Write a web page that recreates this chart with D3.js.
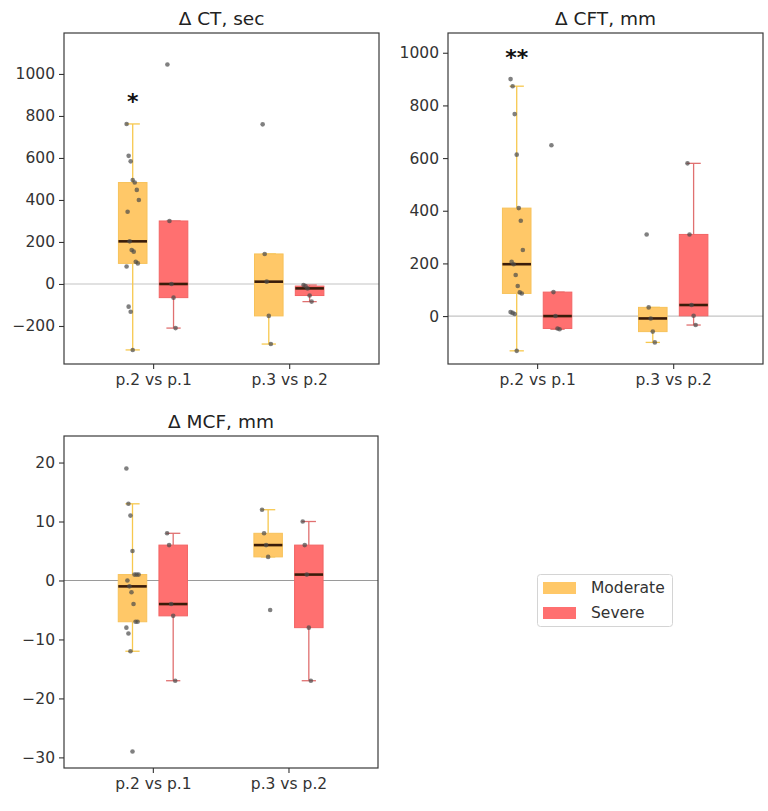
<!DOCTYPE html>
<html>
<head>
<meta charset="utf-8">
<script src="https://cdn.jsdelivr.net/npm/d3@7/dist/d3.min.js"></script>
<style>
  html, body { margin: 0; padding: 0; background: #fff; }
  svg { display: block; font-family: "DejaVu Sans", sans-serif; }
</style>
</head>
<body>
<svg id="chart" width="768" height="811"></svg>
<script>
// ---------------- data ----------------
const categories = ["p.2 vs p.1", "p.3 vs p.2"];
const groups = ["Moderate", "Severe"];
const panelTitles = ["Δ CT, sec", "Δ CFT, mm", "Δ MCF, mm"];

// values per category: [p.2 vs p.1, p.3 vs p.2]
const ctModerate = [
  [762, 610, 584, 495, 483, 448, 400, 344, 203, 162, 154, 106, 98, 83, -108, -132, -314],
  [760, 143, 11, -152, -286]
];
const ctSevere = [
  [1045, 300, 0, -65, -210],
  [-5, -10, -21, -55, -84]
];
const cftModerate = [
  [900, 873, 767, 613, 410, 362, 251, 206, 197, 156, 114, 90, 86, 15, 12, 8, -132],
  [310, 33, -9, -59, -100]
];
const cftSevere = [
  [649, 91, 0, -47, -50],
  [580, 310, 42, 1, -34]
];
const mcfModerate = [
  [19, 13, 11, 5, 1, 1, 1, 0, -1, -2, -4, -7, -7, -8, -9, -12, -29],
  [12, 8, 6, 4, -5]
];
const mcfSevere = [
  [8, 6, -4, -6, -17],
  [10, 6, 1, -8, -17]
];

const ctTicks = [-200, 0, 200, 400, 600, 800, 1000];
const cftTicks = [0, 200, 400, 600, 800, 1000];
const mcfTicks = [-30, -20, -10, 0, 10, 20];

const ctDomain = [-381, 1195];
const cftDomain = [-182, 1075];
const mcfDomain = [-31.8, 24.5];

// significance marks
const sigPanel = [0, 1];
const sigText = ["*", "**"];
const sigValue = [892, 1000];

// ---------------- styles ----------------
const fillColors = ["#ffc868", "#ff7070"];
const edgeColors = ["#f7c25a", "#f26464"];
const whiskerColors = ["#f7c84e", "#e07070"];
const zeroLineColors = ["#c4c4c4", "#c4c4c4", "#9a9a9a"];

const panels = [
  { title: panelTitles[0], series: [ctModerate, ctSevere], ticks: ctTicks, domain: ctDomain, frame: { x: 64, y: 33, w: 315, h: 331 } },
  { title: panelTitles[1], series: [cftModerate, cftSevere], ticks: cftTicks, domain: cftDomain, frame: { x: 448, y: 33, w: 315, h: 331 } },
  { title: panelTitles[2], series: [mcfModerate, mcfSevere], ticks: mcfTicks, domain: mcfDomain, frame: { x: 64, y: 436, w: 314, h: 332 } }
];

const svg = d3.select("#chart");
const fmt = d3.format("d");

function boxStats(values) {
  const s = values.slice().sort(d3.ascending);
  const q1 = d3.quantile(s, 0.25), med = d3.quantile(s, 0.5), q3 = d3.quantile(s, 0.75);
  const iqr = q3 - q1;
  const lo = d3.min(s.filter(v => v >= q1 - 1.5 * iqr));
  const hi = d3.max(s.filter(v => v <= q3 + 1.5 * iqr));
  return { q1, med, q3, lo, hi };
}

function jitter(i) {
  return ((((i * 7919) % 13) / 12) - 0.5) * 0.09;
}

const groupOffset = [-0.15, 0.15];
const boxWidth = 0.21;

panels.forEach((p, pi) => {
  const f = p.frame;
  const g = svg.append("g");
  const x = d3.scaleLinear().domain([-0.655, 1.66]).range([f.x, f.x + f.w]);
  const y = d3.scaleLinear().domain(p.domain).range([f.y + f.h, f.y]);

  // zero line
  g.append("line")
    .attr("x1", f.x).attr("x2", f.x + f.w)
    .attr("y1", y(0)).attr("y2", y(0))
    .attr("stroke", zeroLineColors[pi]).attr("stroke-width", 1.2);

  const unit = x(1) - x(0);

  p.series.forEach((series, gi) => {
    series.forEach((vals, ci) => {
      const st = boxStats(vals);
      const cx = x(ci + groupOffset[gi]);
      const bw = boxWidth * unit;
      const cg = g.append("g");
      // whiskers
      cg.append("line")
        .attr("x1", cx).attr("x2", cx)
        .attr("y1", y(st.hi)).attr("y2", y(st.q3))
        .attr("stroke", whiskerColors[gi]).attr("stroke-width", 1.3);
      cg.append("line")
        .attr("x1", cx).attr("x2", cx)
        .attr("y1", y(st.q1)).attr("y2", y(st.lo))
        .attr("stroke", whiskerColors[gi]).attr("stroke-width", 1.3);
      // caps
      [st.hi, st.lo].forEach(v => {
        cg.append("line")
          .attr("x1", cx - bw / 4).attr("x2", cx + bw / 4)
          .attr("y1", y(v)).attr("y2", y(v))
          .attr("stroke", whiskerColors[gi]).attr("stroke-width", 1.3);
      });
      // box
      cg.append("rect")
        .attr("x", cx - bw / 2).attr("width", bw)
        .attr("y", y(st.q3)).attr("height", Math.max(1, y(st.q1) - y(st.q3)))
        .attr("fill", fillColors[gi])
        .attr("stroke", edgeColors[gi]).attr("stroke-width", 1);
      // median
      cg.append("line")
        .attr("x1", cx - bw / 2).attr("x2", cx + bw / 2)
        .attr("y1", y(st.med)).attr("y2", y(st.med))
        .attr("stroke", "#3a1c0a").attr("stroke-width", 2.6);
      // points
      cg.selectAll("circle").data(vals).join("circle")
        .attr("cx", (d, i) => x(ci + groupOffset[gi] + jitter(i)))
        .attr("cy", d => y(d))
        .attr("r", 2.3)
        .attr("fill", "#4a4a4a")
        .attr("fill-opacity", 0.7);
    });
  });

  // frame
  g.append("rect")
    .attr("x", f.x).attr("y", f.y).attr("width", f.w).attr("height", f.h)
    .attr("fill", "none").attr("stroke", "#3a3a3a").attr("stroke-width", 1.2);

  // y axis
  const ya = g.append("g").attr("transform", `translate(${f.x},0)`)
    .call(d3.axisLeft(y).tickValues(p.ticks).tickFormat(fmt).tickSize(5).tickPadding(4));
  ya.select(".domain").remove();
  ya.selectAll("line").attr("stroke", "#333").attr("stroke-width", 1.1);
  ya.selectAll("text").attr("font-size", "15.5px").attr("fill", "#333")
    .attr("font-family", "DejaVu Sans, sans-serif");

  // x axis
  const xa = g.append("g").attr("transform", `translate(0,${f.y + f.h})`)
    .call(d3.axisBottom(x).tickValues([0, 1]).tickFormat(i => categories[i]).tickSize(5).tickPadding(5));
  xa.select(".domain").remove();
  xa.selectAll("line").attr("stroke", "#333").attr("stroke-width", 1.1);
  xa.selectAll("text").attr("font-size", "15.5px").attr("fill", "#333")
    .attr("font-family", "DejaVu Sans, sans-serif");

  // title
  g.append("text")
    .attr("x", f.x + f.w / 2).attr("y", f.y - 8)
    .attr("text-anchor", "middle")
    .attr("font-size", "18.5px").attr("fill", "#222")
    .text(p.title);

  // significance
  sigPanel.forEach((sp, si) => {
    if (sp !== pi) return;
    g.append("text")
      .attr("x", x(0 + groupOffset[0]))
      .attr("y", y(sigValue[si]) + 12)
      .attr("text-anchor", "middle")
      .attr("font-size", "22px").attr("font-weight", "bold").attr("fill", "#111")
      .text(sigText[si]);
  });
});

// legend
const lg = svg.append("g");
lg.append("rect")
  .attr("x", 537.5).attr("y", 574.5).attr("width", 135).attr("height", 52)
  .attr("rx", 3).attr("fill", "#fff").attr("stroke", "#d4d4d4").attr("stroke-width", 1);
groups.forEach((name, gi) => {
  const yy = 582 + gi * 25;
  lg.append("rect")
    .attr("x", 543).attr("y", yy).attr("width", 33).attr("height", 12)
    .attr("fill", fillColors[gi]);
  lg.append("text")
    .attr("x", 591).attr("y", yy + 11)
    .attr("font-size", "15.5px").attr("fill", "#333")
    .text(name);
});
</script>
</body>
</html>
